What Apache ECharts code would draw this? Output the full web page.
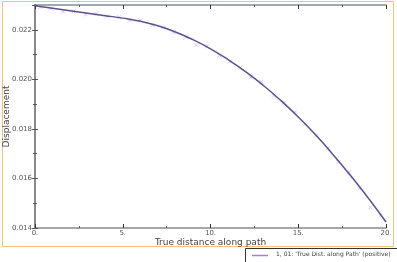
<!DOCTYPE html>
<html><head><meta charset="utf-8">
<script src="https://cdn.jsdelivr.net/npm/echarts@6/dist/echarts.min.js"></script>
<style>html,body{margin:0;padding:0;background:#fff}#c{width:397px;height:262px}</style>
</head><body><div id="c"></div>
<script>
var lineX = [0,1,2,3,4,5,6,7,8,9,10,11,12,13,14,15,16,17,18,19,20];
var lineY = [0.02297,0.02287,0.02277,0.02267,0.02257,0.02247,0.02234,0.02216,0.02191,0.02160,0.02123,0.02080,0.02031,0.01976,0.01915,0.01848,0.01775,0.01695,0.01610,0.01520,0.01424];
var scatX = [0.3,0.9,1.6,2.2,2.9,3.5,4.1,4.8,5.4,6.0,6.7,7.3,7.9,8.6,9.2,9.8,10.5,11.1,11.7,12.3,12.9,13.6,14.2,14.8,15.4,16.0,16.7,17.3,17.9,18.5,19.1,19.7];
var scatY = [0.02292,0.02286,0.02273,0.02274,0.02262,0.02264,0.02254,0.02251,0.02238,0.02238,0.02219,0.02209,0.02190,0.02169,0.02138,0.02133,0.02096,0.02072,0.02047,0.02008,0.01990,0.01934,0.01906,0.01868,0.01820,0.01772,0.01722,0.01666,0.01625,0.01560,0.01483,0.01450];
var xTicks = ['0.','5.','10.','15.','20.'];
var yTicks = ['0.014','0.016','0.018','0.020','0.022'];
var legendName = "1, 01: 'True Dist. along Path' (positive)";

var chart = echarts.init(document.getElementById('c'), null, {renderer:'canvas'});
var axisCol = '#8a8a8a';
chart.setOption({
  animation:false,
  graphic:[
    {type:'rect', shape:{x:2.5,y:1.5,width:391,height:245}, style:{fill:'none', stroke:'#f0c27a', lineWidth:1}, z:-1},
    {type:'rect', shape:{x:245.5,y:248.5,width:160,height:20}, style:{fill:'#fff', stroke:'#333', lineWidth:1}},
    {type:'line', shape:{x1:252,y1:255.5,x2:268,y2:255.5}, style:{stroke:'#a57fe0', lineWidth:1.5}},
    {type:'text', left:276, top:251, style:{text:legendName, fill:'#444', fontSize:6, fontFamily:'DejaVu Sans'}}
  ],
  grid:{left:35, right:11, top:5, bottom:34, outerBoundsMode:'none', containLabel:false},
  xAxis:[{
    type:'value', min:0, max:20, interval:5, position:'bottom',
    name:'True distance along path', nameLocation:'middle', nameGap:10, nameMoveOverlap:false,
    nameTextStyle:{color:'#444', fontSize:9, fontFamily:'DejaVu Sans'},
    axisLine:{lineStyle:{color:axisCol, width:1.5}},
    axisTick:{inside:true, length:4, lineStyle:{color:'#333'}},
    minorTick:{show:true, splitNumber:2, length:2, lineStyle:{color:'#555'}},
    splitLine:{show:false},
    axisLabel:{margin:2, formatter:function(v){return xTicks[Math.round(v/5)];}, color:'#555', fontSize:7, fontFamily:'DejaVu Sans'}
  },{
    type:'value', min:0, max:20, interval:5, position:'top',
    axisLine:{lineStyle:{color:axisCol, width:1.5}},
    axisTick:{inside:true, length:4, lineStyle:{color:'#333'}},
    minorTick:{show:true, splitNumber:2, length:2, lineStyle:{color:'#555'}},
    splitLine:{show:false}, axisLabel:{show:false}
  }],
  yAxis:[{
    type:'value', min:0.014, max:0.023, interval:0.002, position:'left',
    name:'Displacement', nameLocation:'middle', nameGap:24, nameRotate:90, nameMoveOverlap:false,
    nameTextStyle:{color:'#444', fontSize:9, fontFamily:'DejaVu Sans'},
    axisLine:{show:true, lineStyle:{color:axisCol, width:1.5}},
    axisTick:{show:true, inside:true, length:3, lineStyle:{color:'#555'}},
    minorTick:{show:true, splitNumber:2, length:2, lineStyle:{color:'#555'}},
    splitLine:{show:false},
    axisLabel:{margin:3, showMaxLabel:false, formatter:function(v){var i=Math.round((v-0.014)/0.002); return (Math.abs(v-(0.014+i*0.002))<1e-7)?yTicks[i]:'';}, color:'#555', fontSize:7, fontFamily:'DejaVu Sans'}
  },{
    type:'value', min:0.014, max:0.023, interval:0.002, position:'right',
    axisLine:{show:true, lineStyle:{color:axisCol, width:2}},
    axisTick:{show:true, inside:true, length:3, lineStyle:{color:'#555'}},
    minorTick:{show:true, splitNumber:2, length:2, lineStyle:{color:'#555'}},
    splitLine:{show:false}, axisLabel:{show:false}
  }],
  series:[{
    type:'scatter', symbol:'path://M0,0L10,10M10,0L0,10', symbolSize:4,
    itemStyle:{color:'none', borderColor:'#cdb9ee', borderWidth:1},
    data:scatX.map(function(x,i){return [x,scatY[i]];}), z:1
  },{
    type:'line', smooth:true, showSymbol:false,
    lineStyle:{color:'#5d5190', width:1.5},
    data:lineX.map(function(x,i){return [x,lineY[i]];}), z:2
  }]
});
</script></body></html>
